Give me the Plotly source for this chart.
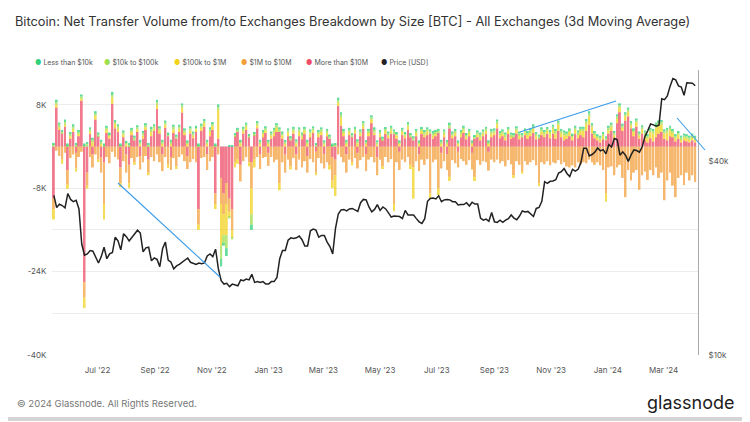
import plotly.graph_objects as go
import pandas as pd

# ---------------- data (values in thousands) ----------------
START = "2022-05-15"   # first sample, every 3 days

# More than $10M (K BTC)
gt10m = [
 -10, 7.5, 3.2, 2.5, 3.8, -4.5, 1.5, 2.8, -1.2, 2.0,
 8.8, -26, -5, 2.4, -1.5, 5.2, 2.0, -2.0, -3, 2.6,
 1.5, 8.2, 3.5, 2.8, -4.0, 1.8, -1.5, -3.5, 2.2, 1.2,
 2.8, -1.8, 1.5, 3.2, -2.5, 2.0, 3.0, 7.2, 2.5, -1.5,
 3.6, 2.0, -2.0, 2.6, 1.5, 2.8, 6.5, 2.2, -1.8, 2.5,
 1.6, 2.8, -12, 3.0, 3.8, -1.5, 2.0, 3.2, -9.0, 1.5,
 -6, -9, -7, -10, -12, 2.0, 2.8, -3.5, 2.5, 3.2,
 1.8, -3, 2.2, 3.5, -1.5, 1.8, 2.6, -1.2, 1.5, 2.0,
 2.8, 2.8, 1.5, -1.5, 2.0, 1.2, 2.5, -1.5, 2.0, 1.4,
 2.4, -1.8, 1.8, 2.6, -1.0, 1.8, 2.2, -1.4, 2.0, 1.5,
 -2.0, -2.5, 7.8, 4.0, 2.0, -1.5, 2.2, 1.8, 2.5, -1.2,
 2.0, 3.4, -1.5, 2.0, 4.5, 2.2, -2.0, 1.8, 1.2, 2.4,
 1.6, 2.5, 2.4, 1.5, -1.0, 2.2, 1.6, 3.2, 1.8, 1.2,
 2.0, -1.5, 2.4, 1.8, 2.2, 2.5, 1.5, 2.0, 2.6, -1.2,
 1.8, -1.5, 3.5, 1.6, 2.0, -1.0, 1.8, 2.6, 1.4, 2.0,
 -1.2, 1.5, 1.8, 1.2, 2.0, 2.4, -1.0, 1.8, 2.2, 3.5,
 1.6, 2.0, 1.2, 2.4, 1.5, 1.8, 2.5, 1.4, 1.8, 2.2,
 1.5, 2.0, 2.6, 1.4, 1.6, 2.2, 1.8, 2.4, 1.6, 2.5,
 1.5, 3.0, 1.8, 1.2, 1.5, 2.0, 1.2, 2.4, 1.6, 2.2,
 1.8, 3.0, 4.2, 2.5, 1.6, 1.2, 0.8, 1.4, 1.2, 2.5,
 3.0, 1.6, 4.5, 6.6, 3.0, 5.0, 5.8, 3.5, 2.0, 3.8,
 1.5, 2.5, 1.2, 0.8, 1.6, 1.0, 1.8, 2.5, 2.8, 1.5,
 1.2, 2.0, 1.8, 1.0, 1.5, 0.8, 1.2, 1.0, 0.8, 1.2, 0.8,
]

# $1M to $10M
m1_10m = [
 -2, -0.8, -1.8, -2.5, -1.2, -2.8, -2.2, -1.5, -3.0, -2.0,
 -1.0, -3, -2.5, -2.0, -2.5, -1.5, -2.5, -3.0, -8, -2.0,
 -3.2, -1.0, -2.0, -2.5, -3.0, -2.8, -3.5, -3.5, -2.2, -3.0,
 -2.0, -2.6, -3.0, -1.8, -2.5, -2.0, -2.8, -1.5, -3.0, -3.2,
 -2.0, -3.5, -2.5, -2.2, -3.8, -2.0, -1.5, -2.8, -2.5, -3.0,
 -2.4, -3.0, -3, -2.2, -2.0, -3.0, -2.8, -2.0, -2.0, -1.5,
 -5, -4, -4, -2.5, -4, -3.0, -2.5, -3.2, -2.8, -2.0,
 -3.0, -5, -2.5, -2.0, -2.8, -2.2, -2.0, -2.5, -2.0, -3.0,
 -2.5, -7.0, -3.0, -3.5, -2.5, -3.8, -2.2, -3.0, -2.5, -4.0,
 -2.8, -3.2, -2.4, -3.0, -4.0, -2.2, -3.2, -2.8, -3.0, -3.6,
 -4.5, -3.0, -1.5, -2.0, -3.0, -3.5, -2.5, -3.0, -2.2, -3.0,
 -2.6, -2.0, -3.2, -2.5, -2.0, -3.0, -3.5, -2.5, -3.8, -2.0,
 -3.0, -2.4, -11.0, -3.0, -3.5, -2.5, -3.0, -2.0, -3.5, -4.0,
 -2.8, -3.2, -2.5, -3.5, -2.4, -9.0, -3.0, -2.5, -8.0, -3.0,
 -2.8, -3.0, -5.8, -2.6, -3.2, -3.0, -2.4, -2.8, -3.5, -2.6,
 -3.2, -5.8, -2.6, -3.5, -2.8, -3.0, -3.6, -2.5, -3.0, -2.5,
 -3.2, -2.8, -3.8, -2.6, -3.4, -5.5, -2.8, -3.5, -4.8, -2.8,
 -3.5, -3.0, -2.6, -3.6, -7.0, -3.0, -3.4, -2.8, -3.6, -3.0,
 -3.2, -2.6, -3.4, -3.0, -3.8, -4.0, -3.6, -4.0, -3.0, -3.4,
 -3.0, -3.2, -2.5, -3.0, -3.5, -3.0, -3.6, -4.5, -9.0, -4.0,
 -3.8, -5.5, -4.0, -3.5, -6.0, -9.7, -4.5, -6.5, -5.0, -4.5,
 -8.3, -5.5, -4.8, -6.4, -4.5, -5.5, -4.0, -6.0, -5.0, -10.3,
 -6.5, -5.0, -7.5, -9.7, -6.0, -5.5, -7.4, -5.0, -6.5, -5.5, -6.8,
]

# $100k to $1M
k100_1m = [
 -2, 0.6, 0.5, -0.8, 0.4, -0.8, 0.5, 0.6, -0.6, 0.4,
 0.4, -2, -0.6, 0.5, 0.8, 0.7, -0.5, 0.5, -3, 0.6,
 0.5, 1.2, 0.8, 0.6, -0.8, 0.5, 0.4, -1.0, 0.6, -0.5,
 0.5, 0.4, 0.6, 0.5, -0.5, 0.8, 0.5, 0.8, 0.6, 0.5,
 0.6, -0.6, 0.5, 0.7, -0.5, 0.6, 0.9, 0.5, 0.5, 0.6,
 0.5, 0.5, -1, 0.6, 0.7, 0.5, 0.8, 0.7, -1.0, 5.5,
 -8, -4, -6, -1.0, -1.5, -1.0, -0.8, 0.6, 0.5, 0.6,
 -0.8, -5, -1.5, 0.6, 0.5, 0.6, 0.5, 0.5, 0.6, 0.7,
 0.8, -1.4, 0.6, 0.5, 0.7, -0.6, 0.5, 0.6, 0.8, 0.5,
 0.6, 0.5, 0.7, 0.5, -0.5, 0.6, 0.6, 0.4, 0.6, -0.8,
 -1.5, -4.0, 0.6, 1.5, 0.6, 0.5, 0.6, -0.6, 0.5, 0.6,
 0.5, 0.6, 0.5, 0.7, 0.7, 0.5, 0.4, 0.6, -0.5, 0.6,
 0.5, 0.6, -1.4, 0.6, 0.5, 0.6, 0.5, 0.6, -0.8, -6.0,
 0.6, 0.5, 0.6, 0.5, 0.7, -1.0, 0.6, 0.5, -1.3, 0.5,
 0.6, 0.5, -0.8, 0.5, 0.6, 0.5, 0.6, 0.5, 0.5, 0.6,
 0.5, -0.8, 0.5, 0.6, 0.5, 0.6, 0.5, 0.7, 0.5, 0.8,
 0.6, 0.5, 0.6, 0.6, 0.5, -0.5, 0.6, 0.6, -0.4, 0.5,
 0.7, 0.6, 0.8, 0.6, -0.6, 0.7, 0.5, 0.6, 0.8, 0.9,
 1.0, 1.2, 0.8, 1.0, 0.6, 0.8, 0.6, 0.8, 0.6, 0.8,
 1.2, 1.4, 1.6, 1.2, 0.6, 0.5, 0.5, 0.6, -1.6, 0.6,
 0.8, 0.6, 0.8, 0.9, 0.6, 0.8, 0.8, 0.6, 0.8, 0.8,
 0.6, 0.8, 1.0, 0.8, 1.2, 1.5, 1.8, 1.6, 1.4, 1.0,
 1.5, 1.2, 0.8, 0.6, 0.8, 0.6, 0.5, 0.6, 0.5, 0.6, 0.5,
]

# $10k to $100k
k10_100k = [
 0.4, 0.4, 0.5, 0.3, 0.5, 0.3, 0.4, 0.4, 0.3, 0.4,
 0.4, 0.3, 0.5, 0.4, 0.5, 0.4, 0.3, 0.4, 0.3, 0.4,
 0.4, 0.5, 0.4, 0.5, 0.3, 0.4, 0.4, 0.3, 0.4, 0.5,
 0.4, 0.4, 0.5, 0.4, 0.3, 0.5, 0.4, 0.5, 0.4, 0.4,
 0.4, 0.4, 0.4, 0.5, 0.4, 0.4, 0.5, 0.4, 0.3, 0.4,
 0.4, 0.4, 0.3, 0.4, 0.4, 0.4, 0.5, 0.4, 0.3, 0.6,
 -2.5, -1.5, -2.5, -0.3, -0.3, 0.3, 0.4, 0.4, 0.4, 0.4,
 0.3, -2, 0.3, 0.4, 0.4, 0.4, 0.4, 0.4, 0.4, 0.5,
 0.5, 0.5, 0.4, 0.4, 0.4, 0.4, 0.4, 0.4, 0.5, 0.4,
 0.4, 0.4, 0.4, 0.4, 0.4, 0.4, 0.5, 0.4, 0.4, 0.4,
 0.3, 0.4, 0.5, 0.6, 0.4, 0.4, 0.4, 0.4, 0.4, 0.4,
 0.4, 0.5, 0.4, 0.3, 0.4, 0.5, 0.4, 0.4, 0.3, 0.4,
 0.4, 0.5, 0.5, 0.4, 0.3, 0.4, 0.4, 0.5, 0.4, 0.4,
 0.4, 0.3, 0.4, 0.5, 0.4, 0.4, 0.4, 0.3, 0.4, 0.4,
 0.5, 0.4, 0.6, 0.4, 0.4, 0.3, 0.4, 0.5, 0.4, 0.4,
 0.3, 0.4, 0.4, 0.5, 0.4, 0.4, 0.3, 0.4, 0.4, 0.5,
 0.4, 0.4, 0.5, 0.4, 0.3, 0.4, 0.4, 0.5, 0.4, 0.4,
 0.4, 0.5, 0.4, 0.4, 0.3, 0.4, 0.5, 0.4, 0.4, 0.4,
 0.5, 0.4, 0.4, 0.5, 0.4, 0.3, 0.4, 0.4, 0.5, 0.4,
 0.4, 0.5, 0.5, 0.4, 0.4, 0.3, 0.4, 0.4, 0.4, 0.5,
 0.4, 0.4, 0.5, 0.4, 0.4, 0.4, 0.5, 0.4, 0.3, 0.4,
 0.4, 0.4, 0.5, 0.4, 0.4, 0.5, 0.5, 0.5, 0.5, 0.4,
 0.5, 0.4, 0.4, 0.4, 0.4, 0.3, 0.4, 0.4, 0.4, 0.3, 0.4,
]

# Less than $10k
lt10k = [
 0.3, 0.5, 0.4, 0.4, 0.5, 0.3, 0.4, 0.5, 0.4, 0.4,
 0.4, 0.3, 0.4, 0.4, 0.4, 0.5, 0.4, 0.4, 0.3, 0.4,
 0.3, 0.6, 0.4, 0.4, 0.3, 0.4, 0.3, 0.4, 0.4, 0.4,
 0.4, 0.5, 0.4, 0.4, 0.4, 0.5, 0.4, 0.5, 0.4, 0.4,
 0.4, 0.3, 0.4, 0.4, 0.4, 0.4, 0.4, 0.4, 0.4, 0.4,
 0.4, 0.3, 0.3, 0.4, 0.4, 0.4, 0.4, 0.4, 0.3, 0.5,
 -1.5, -0.5, -1.5, 0.2, 0.3, 0.3, 0.4, 0.3, 0.4, 0.4,
 0.3, -1, 0.3, 0.4, 0.4, 0.4, 0.4, 0.4, 0.4, 0.4,
 0.4, 0.4, 0.4, 0.3, 0.4, 0.4, 0.4, 0.4, 0.4, 0.4,
 0.4, 0.4, 0.4, 0.4, 0.3, 0.4, 0.4, 0.4, 0.4, 0.4,
 0.3, 0.3, 0.5, 0.5, 0.4, 0.4, 0.4, 0.4, 0.4, 0.4,
 0.4, 0.4, 0.3, 0.4, 0.4, 0.5, 0.4, 0.4, 0.4, 0.3,
 0.4, 0.4, 0.4, 0.3, 0.4, 0.4, 0.3, 0.4, 0.4, 0.4,
 0.4, 0.4, 0.3, 0.4, 0.4, 0.4, 0.5, 0.4, 0.4, 0.4,
 0.4, 0.3, 0.5, 0.4, 0.4, 0.4, 0.4, 0.4, 0.3, 0.4,
 0.4, 0.3, 0.4, 0.4, 0.4, 0.4, 0.4, 0.5, 0.4, 0.4,
 0.4, 0.4, 0.4, 0.3, 0.4, 0.4, 0.4, 0.4, 0.4, 0.4,
 0.4, 0.4, 0.5, 0.4, 0.4, 0.4, 0.4, 0.3, 0.4, 0.4,
 0.4, 0.4, 0.4, 0.4, 0.4, 0.4, 0.3, 0.4, 0.4, 0.4,
 0.4, 0.4, 0.5, 0.4, 0.4, 0.4, 0.4, 0.4, 0.4, 0.4,
 0.4, 0.4, 0.4, 0.4, 0.4, 0.4, 0.4, 0.4, 0.4, 0.4,
 0.4, 0.4, 0.4, 0.4, 0.4, 0.4, 0.5, 0.4, 0.4, 0.4,
 0.4, 0.4, 0.4, 0.4, 0.3, 0.4, 0.4, 0.4, 0.4, 0.4, 0.4,
]

# BTC price (K USD)
price = [
 31.3, 28.7, 29.4, 29.1, 28.6, 31.7,
 30.4, 29.9, 30.2, 28.4, 22.1, 20.4, 20.6, 21.1, 21.0, 20.1,
 19.3, 20.2, 21.6, 19.9, 20.6, 20.8, 23.2, 22.6, 21.2, 23.8,
 23.3, 22.6, 23.2, 23.9, 24.4, 23.9, 20.9, 21.5, 21.6, 19.6, 20.0,
 19.8, 18.8, 21.4, 22.4, 19.7, 19.4, 18.5, 18.9, 19.1, 19.4,
 19.6, 20.0, 19.4, 19.2, 19.1, 19.3, 19.2, 19.3, 20.3, 20.6,
 20.2, 21.3, 18.5, 17.0, 16.6, 16.7, 16.3, 16.6, 16.5, 16.4,
 17.1, 17.0, 17.2, 17.1, 17.8, 16.8, 16.9, 16.8, 16.9, 16.6,
 16.6, 16.9, 16.9, 17.4, 19.9, 21.1, 21.1, 22.7, 23.1, 23.0, 23.1,
 23.4, 22.8, 21.8, 21.8, 24.3, 24.6, 24.4, 23.2, 23.5,
 23.5, 22.4, 21.7, 20.6, 24.7, 27.4, 28.2, 28.3, 28.0, 28.4,
 28.5, 28.2, 27.9, 29.7, 30.4, 30.3, 28.8, 27.8, 28.3, 29.3,
 28.1, 28.8, 28.4, 27.6, 26.8, 27.0, 26.9, 26.9, 26.5, 28.1, 27.2,
 27.2, 27.2, 26.5, 25.9, 25.6, 26.5, 30.0, 30.6, 30.7, 30.5,
 31.2, 29.9, 30.3, 30.4, 30.3, 29.9, 29.9, 29.2, 29.3, 29.3,
 29.7, 29.0, 29.8, 29.4, 29.4, 26.6, 26.2, 26.4, 26.0, 27.7,
 25.9, 25.8, 26.2, 25.8, 26.2, 26.5, 27.2, 26.6, 26.3, 27.0,
 28.0, 27.8, 27.9, 27.4, 26.9, 28.5, 28.7, 30.0, 34.5, 34.1, 34.6,
 34.7, 35.0, 36.7, 37.1, 37.9, 36.6, 35.8, 37.7, 37.2, 37.7,
 39.5, 43.8, 43.8, 41.5, 41.9, 42.6, 43.9, 43.0, 43.4, 42.1,
 45.0, 44.2, 47.0, 46.6, 41.7, 42.7, 41.7, 39.9, 41.8, 43.3,
 43.1, 42.6, 44.3, 47.7, 49.7, 52.1, 51.8, 51.3, 51.7, 62.4,
 62.0, 63.7, 68.3, 72.1, 71.4, 68.4, 67.9, 64.0, 70.0, 69.9,
 69.7, 68.5,
]

names = ["More than $10M", "$1M to $10M", "$100k to $1M", "$10k to $100k", "Less than $10k"]
colors = ["#ee4d68", "#f3a03c", "#f2d21a", "#9fe04e", "#2fd27a"]
series = [gt10m, m1_10m, k100_1m, k10_100k, lt10k]

N = len(price)
for s in series:
    assert len(s) == N, (len(s), N)
dates = pd.date_range(START, periods=N, freq="3D")

left_ticks = [-40000, -32000, -24000, -16000, -8000, 0, 8000]
left_text = ["-40K", "", "-24K", "", "-8K", "", "8K"]

legend_names = ["Less than $10k", "$10k to $100k", "$100k to $1M", "$1M to $10M", "More than $10M", "Price [USD]"]
legend_colors = ["#2fd27a", "#9fe04e", "#f2d21a", "#f3a03c", "#ee4d68", "#222222"]
legend_px = [33, 102, 172, 239, 304, 379]

# ---------------- figure ----------------
OFF = 8                      # page body margin of the html page
W, H = 750 - OFF, 422 - OFF  # figure size
# plot area in page pixels: x 52..698, y 70..355
ML, MT = 52 - OFF, 70 - OFF
MR, MB = W - (698 - OFF), H - (355 - OFF)
PW, PH = W - ML - MR, H - MT - MB

def px_x(px):
    return (px - OFF - ML) / PW

def px_y(py):
    return (H - MB - (py - OFF)) / PH

fig = go.Figure()
for name, col, vals in zip(names, colors, series):
    fig.add_trace(go.Bar(
        x=dates, y=[v * 1000 for v in vals], name=name,
        marker=dict(color=col, line=dict(width=0)), opacity=0.74,
        showlegend=False, yaxis="y"))

fig.add_trace(go.Scatter(
    x=dates, y=[p * 1000 for p in price], name="Price [USD]", mode="lines",
    line=dict(color="#222222", width=1.5), yaxis="y2", showlegend=False))

annotations = []
for nm, col, lx in zip(legend_names, legend_colors, legend_px):
    annotations.append(dict(
        text=f"<span style='color:{col}'>●</span> {nm}", x=px_x(lx), y=px_y(63),
        xref="paper", yref="paper", xanchor="left", yanchor="middle",
        showarrow=False, font=dict(size=7, color="#555555", family="Inter")))

annotations.append(dict(
    text="© 2024 Glassnode. All Rights Reserved.", x=px_x(15), y=px_y(403),
    xref="paper", yref="paper", xanchor="left", yanchor="middle", showarrow=False,
    font=dict(size=9.5, color="#777777", family="Inter")))
annotations.append(dict(
    text="glassnode", x=px_x(736), y=px_y(402),
    xref="paper", yref="paper", xanchor="right", yanchor="middle", showarrow=False,
    font=dict(size=18, color="#1c1c1c", family="Inter")))

shapes = []
trend = [((118, 183), (220, 277)), ((520, 132), (616, 101)), ((677, 118), (705, 150))]
for (x0, y0), (x1, y1) in trend:
    shapes.append(dict(type="line", xref="paper", yref="paper",
                       x0=px_x(x0), y0=px_y(y0), x1=px_x(x1), y1=px_y(y1),
                       line=dict(color="#3a9be8", width=1.1)))
shapes.append(dict(type="rect", xref="paper", yref="paper",
                   x0=px_x(OFF), x1=px_x(750), y0=px_y(421), y1=px_y(417),
                   fillcolor="#d4d4d4", line=dict(width=0), layer="below"))

fig.update_layout(
    width=W, height=H,
    margin=dict(l=ML, r=MR, t=MT, b=MB),
    paper_bgcolor="white", plot_bgcolor="white",
    barmode="relative", bargap=0.3,
    font=dict(family="Inter", color="#555555"),
    title=dict(text="Bitcoin: Net Transfer Volume from/to Exchanges Breakdown by Size [BTC] - All Exchanges (3d Moving Average)",
               x=(15 - OFF) / W, xanchor="left", y=1 - (22 - OFF) / H, yanchor="middle", yref="container",
               font=dict(size=12.8, color="#333333", family="Inter")),
    xaxis=dict(type="date", range=["2022-05-13", "2024-04-07"],
               tick0="2022-07-01", dtick="M2", tickformat="%b '%y",
               showgrid=False, showline=False,
               ticks="outside", ticklen=7, tickcolor="rgba(0,0,0,0)",
               tickfont=dict(size=8, color="#555555")),
    yaxis=dict(range=[-40000, 14700], tickvals=left_ticks, ticktext=left_text,
               showgrid=True, gridcolor="#ececec", gridwidth=1, zeroline=False,
               tickfont=dict(size=8, color="#555555"),
               ticks="outside", ticklen=3, tickcolor="rgba(0,0,0,0)"),
    yaxis2=dict(type="log", range=[4, 4.8845], overlaying="y", side="right",
                tickvals=[10000, 40000], ticktext=["$10k", "$40k"],
                showgrid=False, showline=True, linecolor="#aaaaaa", linewidth=1,
                tickfont=dict(size=8, color="#555555"),
                ticks="outside", ticklen=8, tickcolor="rgba(0,0,0,0)"),
    annotations=annotations, shapes=shapes,
)

fig.write_html("out.html")
